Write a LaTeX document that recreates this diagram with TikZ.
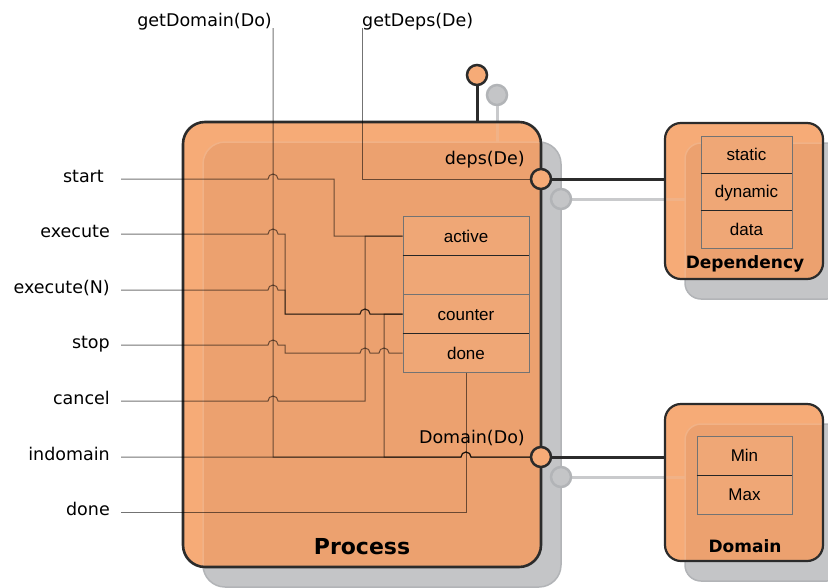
\documentclass[tikz,border=0pt]{standalone}
\usepackage{fontspec}
\setmainfont{DejaVu Sans}
\newfontfamily\arialfont{Liberation Sans}
\usetikzlibrary{calc}

\definecolor{orLight}{HTML}{F6AB77}
\definecolor{orDeep}{HTML}{ECA16F}
\definecolor{orRow}{HTML}{EFA776}
\definecolor{shGray}{HTML}{C4C5C7}
\definecolor{shEdge}{HTML}{B2B4B7}
\definecolor{shStem}{HTML}{C9CACC}
\definecolor{frameC}{HTML}{2B2B2B}
\definecolor{ghost}{HTML}{F1B287}

% a wire that jumps over a crossing vertical wire at (#1,#2)
\newcommand\wirehop[2]{-- (#1-5,#2) arc[start angle=180,end angle=360,radius=5]}

\tikzset{
  container/.style={rectangle, outer sep=0pt, inner sep=0pt},
  frameline/.style={draw=frameC, line width=2.6pt},
  shadowbox/.style={fill=shGray, draw=shEdge, line width=1.5pt},
  port/.style={circle, fill=orLight, draw=frameC, line width=2.5pt, minimum size=20pt, inner sep=0pt},
  shport/.style={circle, fill=shGray, draw=shEdge, line width=2.5pt, minimum size=20pt, inner sep=0pt},
  link/.style={draw=frameC, line width=3pt},
  shlink/.style={draw=shStem, line width=3pt},
  ghostline/.style={draw=ghost, line width=3pt},
  wire/.style={draw=black, draw opacity=0.55, line width=1pt},
  sig/.style={font=\fontsize{17.5}{20}\selectfont, inner sep=0pt},
  field/.style={rectangle, draw=black!55, line width=0.8pt, fill=orRow,
    font=\arialfont\fontsize{17}{20}\selectfont, text height=12pt, text depth=0pt, inner sep=0pt},
  title/.style={font=\bfseries\fontsize{17}{20}\selectfont, inner sep=0pt},
}

\begin{document}
\begin{tikzpicture}[x=1pt,y=-1pt]
\useasboundingbox[fill=white] (0,0) rectangle (828,587);

% container regions
\node[container, minimum width=358pt, minimum height=445pt] (proc) at (362,344.5) {};
\node[container, minimum width=158pt, minimum height=156pt] (dep) at (744,201) {};
\node[container, minimum width=158pt, minimum height=157pt] (dom) at (744,482.5) {};

% drop shadows
\draw[shadowbox, rounded corners=22pt] ([shift={(20,20)}]proc.north west) rectangle ([shift={(20,20)}]proc.south east);
\draw[shadowbox, rounded corners=16pt] ([shift={(20,20)}]dep.north west) rectangle ([shift={(20,20)}]dep.south east);
\draw[shadowbox, rounded corners=16pt] ([shift={(20,20)}]dom.north west) rectangle ([shift={(20,20)}]dom.south east);
\node[shport] (sTop) at (497,95) {};
\draw[shlink] (sTop) -- (sTop |- proc.north);
\coordinate (sDepsC) at (561,199);
\coordinate (sDomC) at (561,477);
\draw[shlink] (sDepsC) -- (dep.west |- sDepsC);
\draw[shlink] (sDomC) -- (dom.west |- sDomC);
\node[shport] (sDeps) at (sDepsC) {};
\node[shport] (sDom) at (sDomC) {};

% container bodies, with the shadow showing through
\foreach \cname/\rad in {proc/22pt, dep/16pt, dom/16pt}{
  \fill[orLight, rounded corners=\rad] (\cname.north west) rectangle (\cname.south east);
  \begin{scope}
    \clip[rounded corners=\rad] (\cname.north west) rectangle (\cname.south east);
    \filldraw[fill=orDeep, draw=ghost, line width=1.5pt, rounded corners=\rad]
      ([shift={(20,20)}]\cname.north west) rectangle ([shift={(20,20)}]\cname.south east);
  \end{scope}
}
\draw[ghostline] (sTop |- proc.north) -- ++(0,20);
\draw[ghostline] (dep.west |- sDepsC) -- ++(20,0);
\draw[ghostline] (dom.west |- sDomC) -- ++(20,0);
\draw[frameline, rounded corners=22pt] (proc.north west) rectangle (proc.south east);
\draw[frameC, line width=2.2pt, rounded corners=16pt] (dep.north west) rectangle (dep.south east);
\draw[frameC, line width=2.2pt, rounded corners=16pt] (dom.north west) rectangle (dom.south east);

% process state fields
\node[field, minimum width=126pt, minimum height=39pt] (active) at (466,236) {active};
\node[field, minimum width=126pt, minimum height=39pt] (spare) at (466,275) {};
\node[field, minimum width=126pt, minimum height=39pt] (counter) at (466,314) {counter};
\node[field, minimum width=126pt, minimum height=39pt] (doneRow) at (466,353) {done};
\draw[black!85, line width=0.9pt] (active.south west) -- (active.south east);
\draw[black!85, line width=0.9pt] (counter.south west) -- (counter.south east);

% dependency fields
\node[field, minimum width=91pt, minimum height=37pt] (static) at (746.5,154.5) {static};
\node[field, minimum width=91pt, minimum height=37pt] (dynamic) at (746.5,191.5) {dynamic};
\node[field, minimum width=91pt, minimum height=38pt] (data) at (746.5,229) {data};
\draw[black!85, line width=0.9pt] (static.south west) -- (static.south east);
\draw[black!85, line width=0.9pt] (dynamic.south west) -- (dynamic.south east);

% domain fields
\node[field, minimum width=95pt, minimum height=39pt] (dmin) at (744.5,455.5) {Min};
\node[field, minimum width=95pt, minimum height=39pt] (dmax) at (744.5,494.5) {Max};
\draw[black!85, line width=0.9pt] (dmin.south west) -- (dmin.south east);

% titles
\node[title, font=\bfseries\fontsize{22}{25}\selectfont, anchor=base] (tProc) at (362,554) {Process};
\node[title, anchor=base] (tDep) at (745,268) {Dependency};
\node[title, anchor=base] (tDom) at (745,552) {Domain};

% port captions
\node[sig, anchor=base east] (cDeps) at (525,164) {deps(De)};
\node[sig, anchor=base east] (cDom) at (525,443) {Domain(Do)};

% signal names
\node[sig, anchor=base east] (lStart) at (104,182) {start};
\node[sig, anchor=base east] (lExec) at (110,237) {execute};
\node[sig, anchor=base east] (lExecN) at (110,293) {execute(N)};
\node[sig, anchor=base east] (lStop) at (110,348) {stop};
\node[sig, anchor=base east] (lCancel) at (110,404) {cancel};
\node[sig, anchor=base east] (lInDom) at (110,460) {indomain};
\node[sig, anchor=base east] (lDone) at (110,515) {done};
\node[sig, anchor=base east] (lGetDom) at (272,26) {getDomain(Do)};
\node[sig, anchor=base west] (lGetDeps) at (362,26) {getDeps(De)};

% wire ends
\coordinate (iStart) at (121,179);
\coordinate (iExec) at (121,234);
\coordinate (iExecN) at (121,290);
\coordinate (iStop) at (121,345);
\coordinate (iCancel) at (121,401);
\coordinate (iInDom) at (121,457);
\coordinate (iDone) at (121,512);
\coordinate (iGetDom) at (273,28);
\coordinate (iGetDeps) at (362,28);

% ports
\node[port] (pTop) at (477,75) {};
\node[port] (pDeps) at (541,179) {};
\node[port] (pDom) at (541,457) {};

% internal wiring
\draw[wire] (iStart) \wirehop{273}{179} -- (334,179) |- (active.west);
\draw[wire] (iExec) \wirehop{273}{234} -- (285,234) -- (285,314) \wirehop{365}{314} -- (counter.west);
\draw[wire] (iExecN) \wirehop{273}{290} -- (285,290) -- (285,314) \wirehop{365}{314} -- (counter.west);
\draw[wire] (iStop) \wirehop{273}{345} -- (285,345) -- (285,353) \wirehop{365}{353} \wirehop{384}{353} -- (doneRow.west);
\draw[wire] (iCancel) \wirehop{273}{401} -- (365,401) |- (active.west);
\draw[wire] (iInDom) \wirehop{466}{457} -- (pDom);
\draw[wire] (iDone) -| (doneRow.south);
\draw[wire] (iGetDom) -- (273,457) \wirehop{466}{457} -- (pDom);
\draw[wire] (iGetDeps) |- (pDeps);
\draw[wire] (counter.west) -- (384,314) -- (384,457) \wirehop{466}{457} -- (pDom);

% external links
\draw[link] (pTop) -- (pTop |- proc.north);
\draw[link] (pDeps) -- (dep.west |- pDeps);
\draw[link] (pDom) -- (dom.west |- pDom);
\end{tikzpicture}
\end{document}
